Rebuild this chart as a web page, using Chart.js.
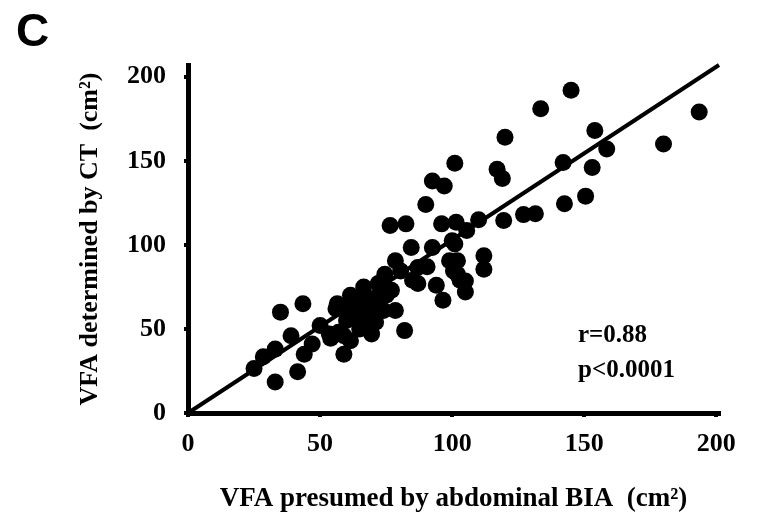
<!DOCTYPE html>
<html>
<head>
<meta charset="utf-8">
<script src="https://cdn.jsdelivr.net/npm/chart.js@4"></script>
<style>
  html, body { margin: 0; padding: 0; background: #fff; }
  #wrap { width: 759px; height: 527px; }
</style>
</head>
<body>
<div id="wrap"><canvas id="vfaChart" width="759" height="527"></canvas></div>
<script>
// VFA by abdominal BIA (x) vs VFA by CT (y), cm2
var bia = [145, 133.5, 120, 101, 117, 119, 154, 158.5, 142, 153, 150.5, 142.5, 193.5, 180,
           119.5, 127, 131.5, 110, 101.5, 105.5, 92.5, 97, 90, 76.5, 82.5, 96, 84.5, 92.5,
           101, 112, 112, 78.5, 87, 102, 102, 90.5, 105, 105, 94, 96.5, 100.5, 100, 99, 87,
           74.5, 66.5, 78.5, 82, 69.5, 61.5, 56.5, 43.5, 35, 61.5, 56, 72, 80.5, 59, 59, 53.5,
           47, 39, 44, 41.5, 33, 28.5, 25, 33, 72, 69.5, 63, 59, 74, 57, 54, 64, 68, 66, 71,
           75, 60, 65, 50, 85, 103, 67, 62, 70, 65, 77];
var ct = [192, 181, 164, 148.5, 145, 139.5, 168, 157, 149, 146, 129, 124.5, 179, 160,
          114.5, 118, 118.5, 115, 113.5, 108.5, 138, 135, 124, 111.5, 112.5, 112.5, 98.5, 98.5,
          100.5, 93.5, 85.5, 90.5, 86.5, 90.5, 82.5, 87, 78.5, 72, 76, 67, 84.5, 102.5, 90.5, 77,
          82.5, 75, 61, 49, 47, 43, 65, 65, 60, 70, 62, 77, 84.5, 46, 35, 47,
          41, 46, 35, 24.5, 38, 33.5, 26.5, 18.5, 68.5, 59, 59, 62.5, 61, 48, 44.5, 65, 64, 54, 54,
          70, 55, 50, 52, 79, 79, 69, 66, 62, 60, 73];
var fitX = [0, 201];
var fitY = [0, 207];
var tickVals = [0, 50, 100, 150, 200];

var points = bia.map(function(x, i) { return { x: x, y: ct[i] }; });
var fitLine = fitX.map(function(x, i) { return { x: x, y: fitY[i] }; });

var serif = 'Liberation Serif, Times New Roman, serif';
Chart.defaults.color = '#000';

var textPlugin = {
    id: 'panelText',
    afterDraw: function(chart) {
        var ctx = chart.ctx;
        ctx.save();
        ctx.fillStyle = '#000';
        ctx.textAlign = 'left';
        ctx.textBaseline = 'alphabetic';
        ctx.font = 'bold 46px Liberation Sans, Arial, sans-serif';
        ctx.fillText('C', 16, 46);
        ctx.font = 'bold 25px ' + serif;
        ctx.fillText('r=0.88', 578, 342);
        ctx.fillText('p<0.0001', 578, 377);
        ctx.restore();
    }
};

var ctx = document.getElementById('vfaChart').getContext('2d');
var vfaChart = new Chart(ctx, {
    type: 'scatter',
    data: {
        datasets: [{
            type: 'line',
            data: fitLine,
            borderColor: '#000',
            borderWidth: 4,
            pointRadius: 0,
            fill: false,
            clip: false
        }, {
            data: points,
            backgroundColor: '#000',
            borderWidth: 0,
            pointRadius: 8.5,
            pointHoverRadius: 8.5
        }]
    },
    options: {
        responsive: false,
        animation: false,
        layout: {
            padding: { top: 65, right: 40, left: 0, bottom: 0 }
        },
        plugins: {
            legend: { display: false },
            tooltip: { enabled: false }
        },
        scales: {
            x: {
                type: 'linear',
                min: 0,
                max: 201,
                afterBuildTicks: function(scale) {
                    scale.ticks = tickVals.map(function(v) { return { value: v }; });
                },
                afterFit: function(scale) { scale.height = 114; },
                border: { display: true, color: '#000', width: 5 },
                grid: { drawOnChartArea: false, drawTicks: true, tickLength: 4, lineWidth: 4, color: '#000' },
                ticks: {
                    padding: 12,
                    maxRotation: 0,
                    font: { family: serif, size: 26, weight: 'bold' }
                },
                title: {
                    display: true,
                    text: 'VFA presumed by abdominal BIA  (cm²)',
                    padding: { top: 0, bottom: 12 },
                    font: { family: serif, size: 27, weight: 'bold' }
                }
            },
            y: {
                type: 'linear',
                min: 0,
                max: 207,
                afterBuildTicks: function(scale) {
                    scale.ticks = tickVals.map(function(v) { return { value: v }; });
                },
                afterFit: function(scale) { scale.width = 188; },
                border: { display: true, color: '#000', width: 5 },
                grid: { drawOnChartArea: false, drawTicks: true, tickLength: 4, lineWidth: 4, color: '#000' },
                ticks: {
                    padding: 18,
                    font: { family: serif, size: 26, weight: 'bold' }
                },
                title: {
                    display: true,
                    text: 'VFA determined by CT  (cm²)',
                    padding: { top: 75, bottom: 0 },
                    font: { family: serif, size: 26, weight: 'bold' }
                }
            }
        }
    },
    plugins: [textPlugin]
});
</script>
</body>
</html>
